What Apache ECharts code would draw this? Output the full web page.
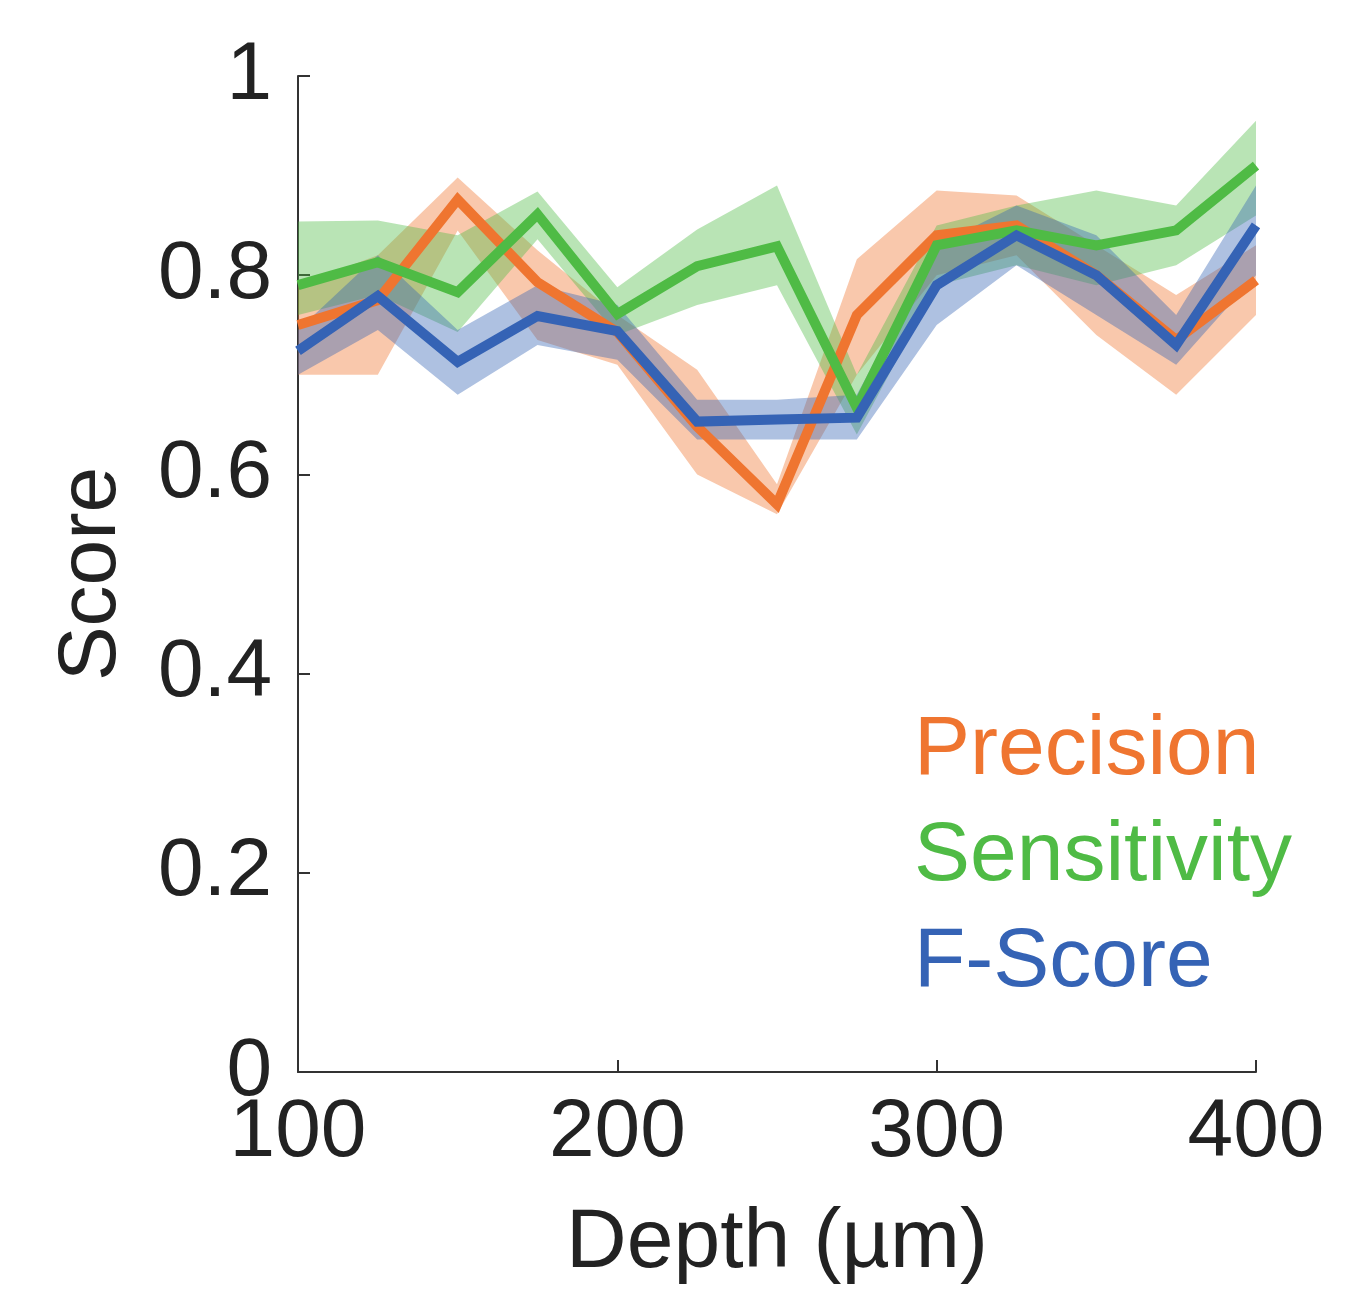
<!DOCTYPE html>
<html>
<head>
<meta charset="utf-8">
<script src="https://cdn.jsdelivr.net/npm/echarts@6/dist/echarts.min.js"></script>
<style>
    html, body { margin: 0; padding: 0; background: #fff; }
    #chart { width: 1364px; height: 1290px; }
</style>
</head>
<body>
<div id="chart"></div>
<script>
    // depth in um
    var depths = [100, 125, 150, 175, 200, 225, 250, 275, 300, 325, 350, 375, 400];

    var precision      = [0.750, 0.775, 0.876, 0.793, 0.743, 0.648, 0.570, 0.760, 0.840, 0.850, 0.800, 0.735, 0.795];
    var precisionLow   = [0.700, 0.700, 0.845, 0.735, 0.710, 0.600, 0.560, 0.700, 0.800, 0.820, 0.740, 0.680, 0.760];
    var precisionHigh  = [0.790, 0.820, 0.898, 0.825, 0.760, 0.705, 0.590, 0.816, 0.885, 0.880, 0.830, 0.780, 0.830];

    var sensitivity     = [0.790, 0.813, 0.783, 0.861, 0.761, 0.809, 0.829, 0.667, 0.830, 0.845, 0.830, 0.845, 0.910];
    var sensitivityLow  = [0.760, 0.780, 0.743, 0.836, 0.740, 0.770, 0.790, 0.640, 0.790, 0.810, 0.790, 0.810, 0.860];
    var sensitivityHigh = [0.854, 0.855, 0.840, 0.884, 0.788, 0.846, 0.890, 0.700, 0.850, 0.870, 0.885, 0.870, 0.955];

    var fscore     = [0.724, 0.779, 0.713, 0.759, 0.744, 0.653, 0.655, 0.657, 0.790, 0.840, 0.800, 0.730, 0.850];
    var fscoreLow  = [0.700, 0.745, 0.680, 0.730, 0.715, 0.635, 0.635, 0.635, 0.750, 0.810, 0.760, 0.710, 0.800];
    var fscoreHigh = [0.745, 0.820, 0.745, 0.790, 0.770, 0.675, 0.675, 0.680, 0.830, 0.870, 0.840, 0.760, 0.890];

    var yTicks = ['0', '0.2', '0.4', '0.6', '0.8', '1'];

    var colOrange = '#ef7530';
    var colGreen = '#4fbb45';
    var colBlue = '#3563b5';
    var fontName = 'Liberation Sans, Arial, sans-serif';

    function pairs(vals){
        return depths.map(function(d, i){ return [d, vals[i]]; });
    }

    // shaded band between low and high, one polygon drawn through the axes
    function band(name, low, high, color){
        var rows = depths.map(function(d, i){ return [d, low[i], high[i]]; });
        return {
            name: name,
            type: 'custom',
            data: rows,
            encode: {x: 0, y: [1, 2]},
            silent: true,
            z: 1,
            renderItem: function(params, api){
                if (params.dataIndex !== 0) return null;
                var pts = [];
                rows.forEach(function(r){ pts.push(api.coord([r[0], r[2]])); });
                rows.slice().reverse().forEach(function(r){ pts.push(api.coord([r[0], r[1]])); });
                return {
                    type: 'polygon',
                    shape: {points: pts},
                    style: {fill: color, opacity: 0.4}
                };
            }
        };
    }

    function mainLine(name, vals, color){
        return {
            name: name,
            type: 'line',
            data: pairs(vals),
            symbol: 'none',
            lineStyle: {color: color, width: 10, join: 'miter'},
            itemStyle: {color: color},
            z: 3
        };
    }

    var series = [
        band('p_band', precisionLow, precisionHigh, colOrange),
        band('s_band', sensitivityLow, sensitivityHigh, colGreen),
        band('f_band', fscoreLow, fscoreHigh, colBlue),
        mainLine('Precision', precision, colOrange),
        mainLine('Sensitivity', sensitivity, colGreen),
        mainLine('F-Score', fscore, colBlue)
    ];

    var myChart = echarts.init(document.getElementById('chart'));
    myChart.setOption({
        animation: false,
        backgroundColor: '#fff',
        grid: {
            left: 298,
            right: 108,
            top: 76,
            bottom: 218,
            outerBoundsMode: 'none'
        },
        legend: {
            orient: 'vertical',
            left: 904,
            top: 704,
            icon: 'none',
            itemWidth: 0,
            itemHeight: 0,
            itemGap: 22,
            selectedMode: false,
            textStyle: {fontSize: 84, fontFamily: fontName},
            data: [
                {name: 'Precision', textStyle: {color: colOrange}},
                {name: 'Sensitivity', textStyle: {color: colGreen}},
                {name: 'F-Score', textStyle: {color: colBlue}}
            ]
        },
        xAxis: {
            type: 'value',
            min: 100,
            max: 400,
            interval: 100,
            name: 'Depth (µm)',
            nameLocation: 'middle',
            nameGap: 130,
            nameTextStyle: {fontSize: 84, color: '#222', fontFamily: fontName},
            splitLine: {show: false},
            axisLine: {lineStyle: {color: '#333', width: 2}},
            axisTick: {inside: true, length: 12, lineStyle: {color: '#333', width: 2}},
            axisLabel: {fontSize: 82, color: '#222', fontFamily: fontName, margin: 20}
        },
        yAxis: {
            type: 'value',
            min: 0,
            max: 1,
            interval: 0.2,
            name: 'Score',
            nameLocation: 'middle',
            nameGap: 165,
            nameTextStyle: {fontSize: 82, color: '#222', fontFamily: fontName},
            splitLine: {show: false},
            axisLine: {show: true, lineStyle: {color: '#333', width: 2}},
            axisTick: {show: true, inside: true, length: 12, lineStyle: {color: '#333', width: 2}},
            axisLabel: {
                fontSize: 82, color: '#222', fontFamily: fontName, margin: 26,
                formatter: function(v){ return yTicks[Math.round(v / 0.2)]; }
            }
        },
        series: series
    });
</script>
</body>
</html>
